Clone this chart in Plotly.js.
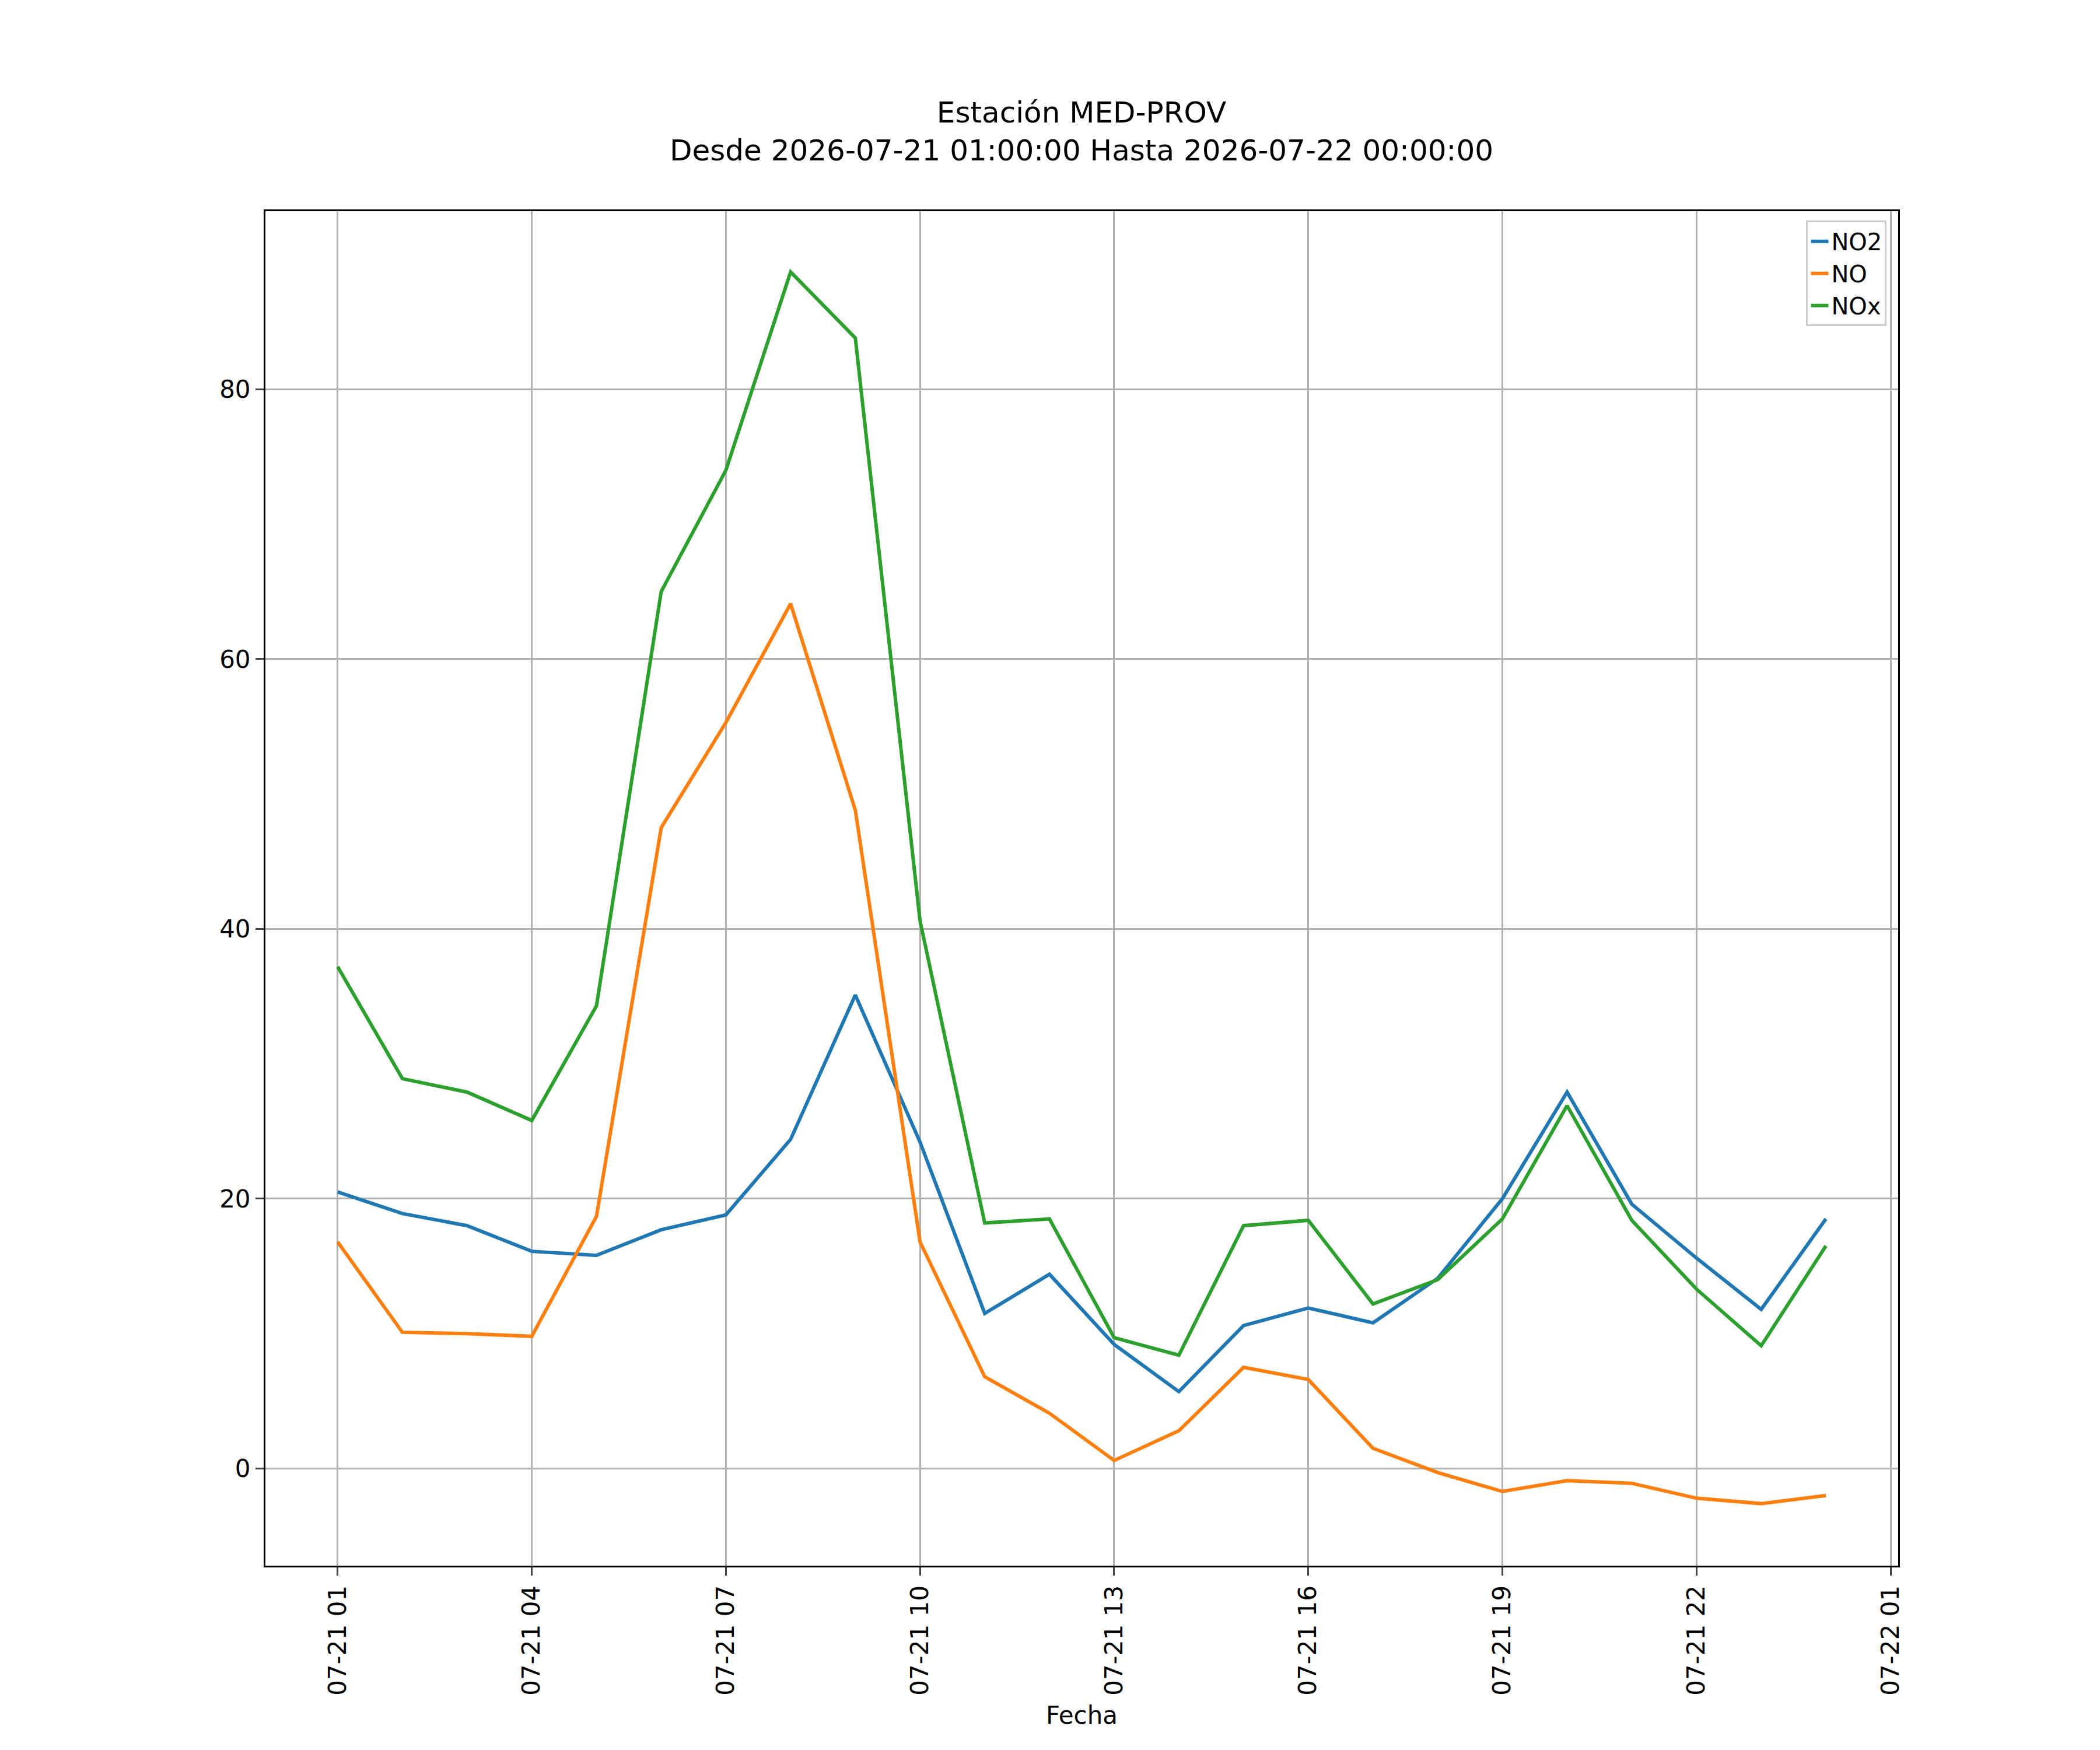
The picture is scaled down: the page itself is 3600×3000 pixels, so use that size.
<!DOCTYPE html>
<html>
<head>
<meta charset="utf-8">
<script src="https://cdn.plot.ly/plotly-3.0.1.min.js"></script>
<style>body{margin:0;background:#fff}</style>
</head>
<body>
<div id="chart" style="width:3600px;height:3000px"></div>
<script>
var fechas = []
for (var h = 1; h <= 23; h++) {
  fechas.push('2026-07-21 ' + (h < 10 ? '0' + h : h) + ':00:00')
}
fechas.push('2026-07-22 00:00:00')

var no2 = [20.5, 18.9, 18.0, 16.1, 15.8, 17.7, 18.8, 24.4, 35.1, 24.2, 11.5, 14.4,
  9.2, 5.7, 10.6, 11.9, 10.8, 14.1, 20.0, 27.9, 19.6, 15.6, 11.8, 18.5]
var no = [16.8, 10.1, 10.0, 9.8, 18.7, 47.5, 55.3, 64.1, 48.8, 16.8, 6.8, 4.1,
  0.6, 2.8, 7.5, 6.6, 1.5, -0.3, -1.7, -0.9, -1.1, -2.2, -2.6, -2.0]
var nox = [37.2, 28.9, 27.9, 25.8, 34.3, 65.0, 74.0, 88.7, 83.8, 40.6, 18.2, 18.5,
  9.7, 8.4, 18.0, 18.4, 12.2, 14.0, 18.5, 26.9, 18.4, 13.3, 9.1, 16.5]

var series = [['NO2', no2, '#1f77b4'], ['NO', no, '#ff7f0e'], ['NOx', nox, '#2ca02c']]
var data = series.map(function (s) {
  return {type: 'scatter', mode: 'lines', name: s[0], x: fechas, y: s[1],
    line: {color: s[2], width: 6}}
})

var font = {family: 'DejaVu Sans', size: 42, color: '#000'}

var layout = {
  width: 3600, height: 3000,
  margin: {l: 455, r: 346, t: 362, b: 316},
  paper_bgcolor: '#fff', plot_bgcolor: '#fff',
  font: font,
  showlegend: true,
  title: {text: 'Estación MED-PROV<br>Desde 2026-07-21 01:00:00 Hasta 2026-07-22 00:00:00',
    font: {family: 'DejaVu Sans', size: 50, color: '#000'}, x: 0.515, xanchor: 'center', y: 0.93, yanchor: 'bottom'},
  legend: {x: 0.993, y: 0.993, xanchor: 'right', yanchor: 'top', bgcolor: '#fff',
    bordercolor: '#ccc', borderwidth: 3, font: {family: 'DejaVu Sans', size: 40}},
  xaxis: {
    type: 'date',
    range: ['2026-07-20 23:53:00', '2026-07-22 01:07:00'],
    tickvals: ['2026-07-21 01:00', '2026-07-21 04:00', '2026-07-21 07:00', '2026-07-21 10:00',
      '2026-07-21 13:00', '2026-07-21 16:00', '2026-07-21 19:00', '2026-07-21 22:00', '2026-07-22 01:00'],
    tickformat: '%m-%d %H',
    tickangle: -90,
    showgrid: true, gridcolor: '#b0b0b0', gridwidth: 3,
    showline: true, linecolor: '#000', linewidth: 3, mirror: true,
    ticks: 'outside', ticklen: 14, tickwidth: 3,
    zeroline: false,
    title: {text: 'Fecha', font: font, standoff: 20}
  },
  yaxis: {
    range: [-7.2, 93.2],
    tickvals: [0, 20, 40, 60, 80],
    showgrid: true, gridcolor: '#b0b0b0', gridwidth: 3,
    showline: true, linecolor: '#000', linewidth: 3, mirror: true,
    ticks: 'outside', ticklen: 14, tickwidth: 3,
    zeroline: false
  }
}

Plotly.newPlot('chart', data, layout, {staticPlot: true})
</script>
</body>
</html>
